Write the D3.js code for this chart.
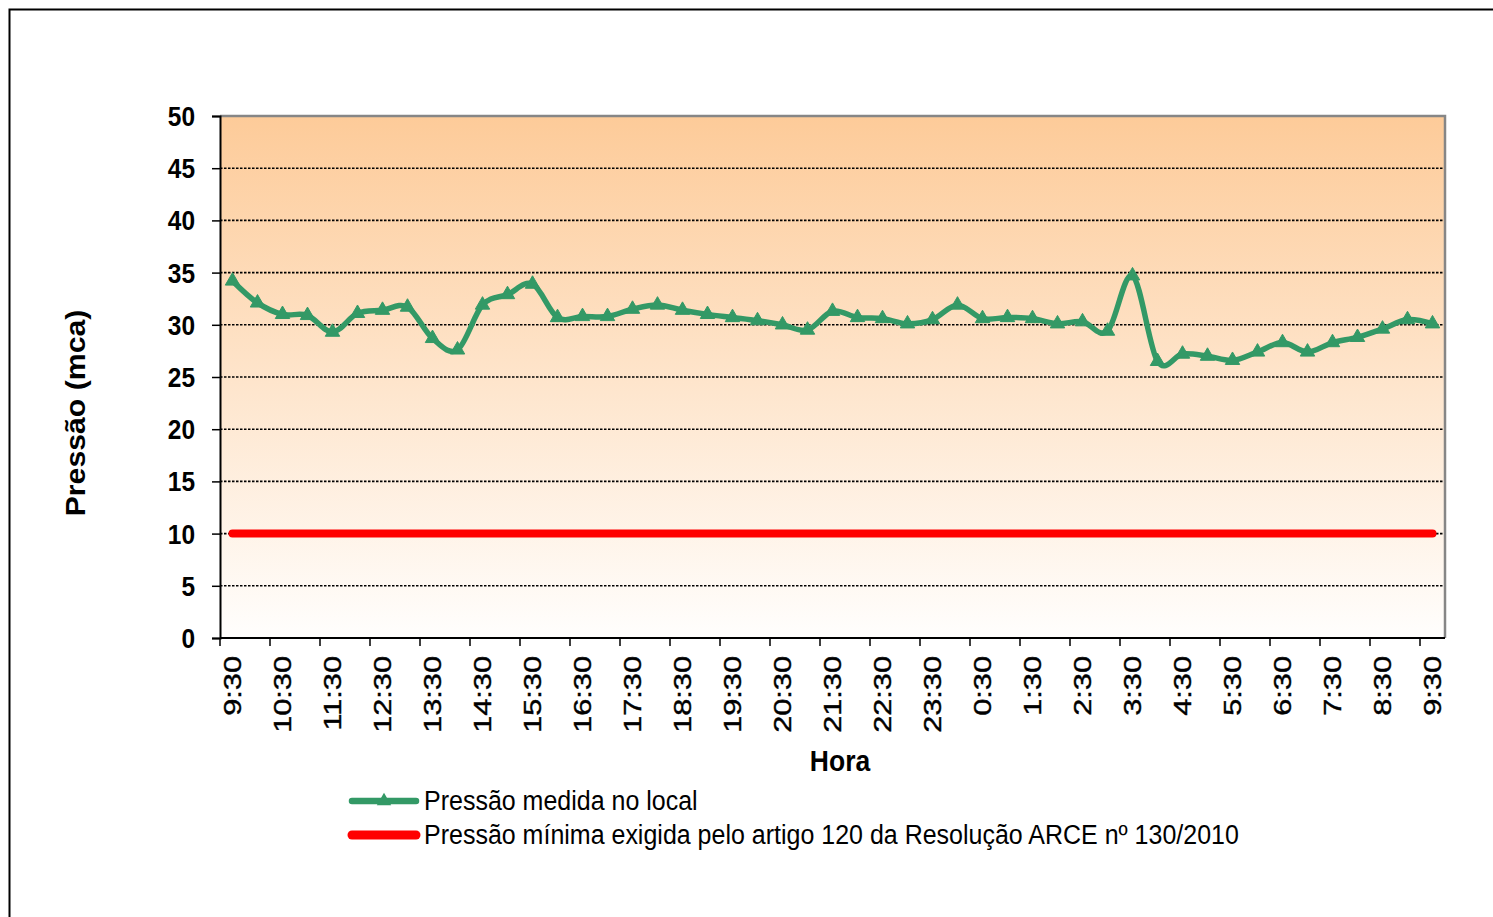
<!DOCTYPE html>
<html>
<head>
<meta charset="utf-8">
<script src="https://cdn.jsdelivr.net/npm/d3@7"></script>
<style>
  html, body { margin: 0; padding: 0; background: #fff; }
  svg { display: block; }
  text { font-family: "Liberation Sans", Arial, sans-serif; fill: #000; }
</style>
</head>
<body>
<svg id="chart" width="1493" height="917"></svg>
<script>
const categories = ["9:30","10:00","10:30","11:00","11:30","12:00","12:30","13:00","13:30","14:00",
  "14:30","15:00","15:30","16:00","16:30","17:00","17:30","18:00","18:30","19:00",
  "19:30","20:00","20:30","21:00","21:30","22:00","22:30","23:00","23:30","0:00",
  "0:30","1:00","1:30","2:00","2:30","3:00","3:30","4:00","4:30","5:00",
  "5:30","6:00","6:30","7:00","7:30","8:00","8:30","9:00","9:30"];
const measured = [34.2,32.1,31.0,30.9,29.3,31.1,31.4,31.7,28.7,27.6,
  31.9,32.9,33.9,30.7,30.8,30.8,31.5,31.9,31.4,31.0,
  30.7,30.4,30.0,29.5,31.3,30.7,30.6,30.1,30.5,31.9,
  30.6,30.7,30.6,30.1,30.3,29.4,34.7,26.5,27.2,27.0,
  26.6,27.4,28.3,27.4,28.3,28.8,29.6,30.5,30.1];
const minimum = categories.map(() => 10);
const yTicks = [0,5,10,15,20,25,30,35,40,45,50];
const seriesNames = ["Pressão medida no local", "Pressão mínima exigida pelo artigo 120 da Resolução ARCE nº 130/2010"];
const yTitle = "Pressão (mca)";
const xTitle = "Hora";

const svg = d3.select("#chart");
const SY = 1.12; // vertical text stretch
const plot = {left: 220, right: 1445, top: 116, bottom: 638};
const green = "#339966", red = "#ff0000";

// outer frame
svg.append("rect").attr("x", 9.5).attr("y", 9.5).attr("width", 1500).attr("height", 1000)
  .attr("fill", "#fff").attr("stroke", "#000").attr("stroke-width", 2);

const x = d3.scaleBand().domain(d3.range(categories.length)).range([plot.left, plot.right]).padding(0);
const y = d3.scaleLinear().domain([0, 50]).range([plot.bottom, plot.top]);
const cx = i => x(i) + x.bandwidth() / 2;

// gradient background
const defs = svg.append("defs");
const grad = defs.append("linearGradient").attr("id", "bg").attr("x1", 0).attr("y1", 0).attr("x2", 0).attr("y2", 1);
grad.append("stop").attr("offset", "0%").attr("stop-color", "#fdcb99");
grad.append("stop").attr("offset", "100%").attr("stop-color", "#fffefd");
svg.append("rect").attr("x", plot.left).attr("y", plot.top)
  .attr("width", plot.right - plot.left).attr("height", plot.bottom - plot.top)
  .attr("fill", "url(#bg)");

// gridlines
svg.append("g").selectAll("line").data(yTicks.filter(t => t > 0 && t < 50)).join("line")
  .attr("x1", plot.left).attr("x2", plot.right)
  .attr("y1", d => y(d)).attr("y2", d => y(d))
  .attr("stroke", "#000").attr("stroke-width", 1.6).attr("stroke-dasharray", "2.5,1.5");

// top/right border
svg.append("path")
  .attr("d", `M${plot.left},${plot.top}H${plot.right}V${plot.bottom}`)
  .attr("fill", "none").attr("stroke", "#868686").attr("stroke-width", 2.5);

// y axis
const yAxis = d3.axisLeft(y).tickValues(yTicks).tickSize(8).tickFormat(d3.format("d"));
const gy = svg.append("g").attr("transform", `translate(${plot.left},0)`).call(yAxis);
gy.select(".domain").attr("stroke", "#000").attr("stroke-width", 2);
gy.selectAll(".tick line").attr("stroke", "#000").attr("stroke-width", 1.5);
gy.selectAll(".tick text")
  .attr("x", -25).attr("y", 0).attr("dy", null)
  .attr("font-size", 24.5).attr("font-weight", "bold").attr("fill", "#000")
  .attr("font-family", "Liberation Sans, Arial, sans-serif")
  .attr("dominant-baseline", "central")
  .attr("transform", `scale(1,${SY})`);

// x axis ticks (every 2 categories at boundaries)
const xTickIdx = d3.range(0, categories.length, 2);
const SX = 1.28;
const gx = svg.append("g");
gx.append("line").attr("x1", plot.left).attr("x2", plot.right).attr("y1", plot.bottom).attr("y2", plot.bottom)
  .attr("stroke", "#000").attr("stroke-width", 2);
gx.selectAll("line.tk").data(xTickIdx).join("line").attr("class", "tk")
  .attr("x1", d => x(d)).attr("x2", d => x(d)).attr("y1", plot.bottom).attr("y2", plot.bottom + 8)
  .attr("stroke", "#000").attr("stroke-width", 1.5);
gx.selectAll("text").data(xTickIdx).join("text")
  .attr("transform", d => `translate(${cx(d) + 8},${plot.bottom + 18}) scale(1,${SX}) rotate(-90)`)
  .attr("text-anchor", "end")
  .attr("font-size", 24).attr("font-weight", "normal")
  .attr("stroke", "#000").attr("stroke-width", 0.4)
  .text(d => categories[d]);

// minimum line
const line = d3.line().x((d, i) => cx(i)).y(d => y(d));
svg.append("path").datum(minimum).attr("d", line)
  .attr("fill", "none").attr("stroke", red).attr("stroke-width", 8).attr("stroke-linecap", "round");

// measured line (smoothed)
const sline = d3.line().x((d, i) => cx(i)).y(d => y(d)).curve(d3.curveCatmullRom.alpha(0));
svg.append("path").datum(measured).attr("d", sline)
  .attr("fill", "none").attr("stroke", green).attr("stroke-width", 5.5).attr("stroke-linejoin", "round");

const tri = d3.symbol().type(d3.symbolTriangle).size(90);
svg.append("g").selectAll("path").data(measured).join("path")
  .attr("transform", (d, i) => `translate(${cx(i)},${y(d)})`)
  .attr("d", tri).attr("fill", green).attr("stroke", green).attr("stroke-width", 1);

// axis titles
svg.append("text").attr("transform", `translate(840,771) scale(1,${SY})`)
  .attr("text-anchor", "middle").attr("font-size", 26.5).attr("font-weight", "bold").text(xTitle);
svg.append("text").attr("transform", `translate(85,413) scale(1,${SY}) rotate(-90)`)
  .attr("text-anchor", "middle").attr("font-size", 27).attr("font-weight", "bold").text(yTitle);

// legend
const legY = [801, 835];
const leg = svg.append("g");
leg.append("line").attr("x1", 352).attr("x2", 416).attr("y1", legY[0]).attr("y2", legY[0])
  .attr("stroke", green).attr("stroke-width", 6.5).attr("stroke-linecap", "round");
leg.append("path").attr("transform", `translate(384,${legY[0]})`).attr("d", tri).attr("fill", green);
leg.append("line").attr("x1", 352).attr("x2", 416).attr("y1", legY[1]).attr("y2", legY[1])
  .attr("stroke", red).attr("stroke-width", 9).attr("stroke-linecap", "round");
seriesNames.forEach((n, i) => {
  leg.append("text").attr("transform", `translate(424,${legY[i] + 9}) scale(1,${SY})`)
    .attr("font-size", 25).attr("fill", "#1a1a1a").text(n);
});
</script>
</body>
</html>
